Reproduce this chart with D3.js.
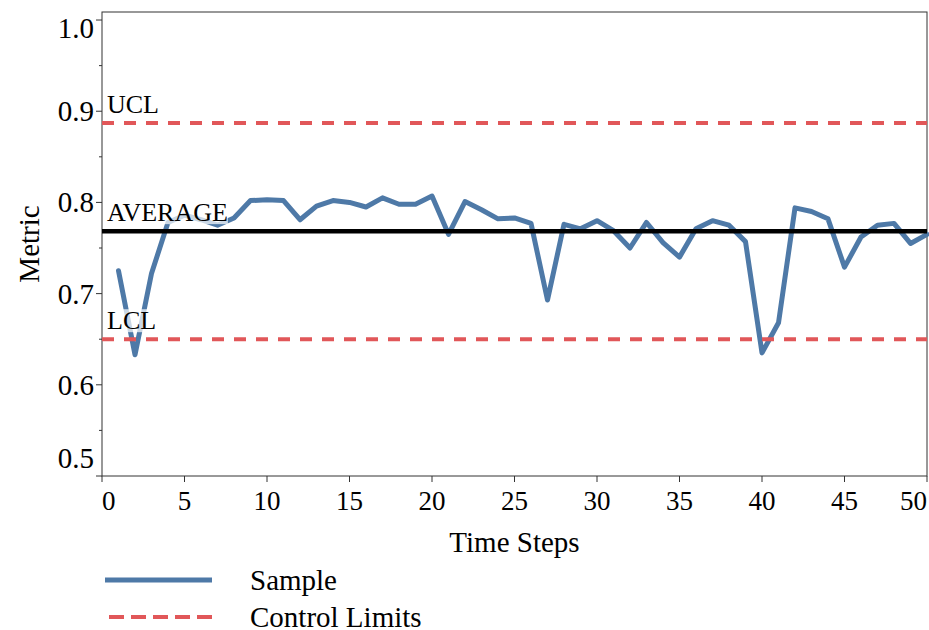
<!DOCTYPE html>
<html>
<head>
<meta charset="utf-8">
<script src="https://cdn.jsdelivr.net/npm/d3@7"></script>
<style>
  html, body { margin: 0; padding: 0; background: #fff; }
  svg { display: block; font-family: "Liberation Serif", "Times New Roman", serif; }
</style>
</head>
<body>
<svg id="chart" width="929" height="630"></svg>
<script>
// values
const sampleValues = [0.725, 0.633, 0.722, 0.778, 0.786, 0.781, 0.775, 0.783, 0.802, 0.803,
  0.802, 0.781, 0.796, 0.802, 0.800, 0.795, 0.805, 0.798, 0.798, 0.807,
  0.765, 0.801, 0.792, 0.782, 0.783, 0.777, 0.693, 0.776, 0.771, 0.780,
  0.769, 0.750, 0.778, 0.756, 0.740, 0.771, 0.780, 0.775, 0.757, 0.635,
  0.668, 0.794, 0.790, 0.782, 0.729, 0.762, 0.775, 0.777, 0.755, 0.765];
const controlNames = ['UCL', 'AVERAGE', 'LCL'];
const controlValues = [0.887, 0.7685, 0.650];
const xTicks = [0, 5, 10, 15, 20, 25, 30, 35, 40, 45, 50];
const yTicks = [0.5, 0.6, 0.7, 0.8, 0.9, 1.0];
const yMinorTicks = [0.55, 0.65, 0.75, 0.85, 0.95];
const legendLabels = ['Sample', 'Control Limits'];

const blue = '#4e79a7';
const red = '#e15759';
const svg = d3.select('#chart');
const margin = { top: 12, right: 2, bottom: 154, left: 102 };
const width = 929;
const height = 630;
const innerWidth = width - margin.left - margin.right;
const innerHeight = height - margin.top - margin.bottom;

const x = d3.scaleLinear().domain([0, 50]).range([0, innerWidth]);
const y = d3.scaleLinear().domain([0.5, 1.0088]).range([innerHeight, 0]);

const plot = svg.append('g').attr('transform', `translate(${margin.left},${margin.top})`);

// frame
plot.append('rect')
  .attr('width', innerWidth)
  .attr('height', innerHeight)
  .attr('fill', 'none')
  .attr('stroke', '#333')
  .attr('stroke-width', 1);

// sample line
const line = d3.line()
  .x((d, i) => x(i + 1))
  .y(d => y(d));
plot.append('path')
  .datum(sampleValues)
  .attr('d', line)
  .attr('fill', 'none')
  .attr('stroke', blue)
  .attr('stroke-width', 5)
  .attr('stroke-linejoin', 'round')
  .attr('stroke-linecap', 'round');

// control lines
controlNames.forEach((name, i) => {
  const isAvg = name === 'AVERAGE';
  plot.append('line')
    .attr('x1', 0)
    .attr('x2', innerWidth)
    .attr('y1', y(controlValues[i]))
    .attr('y2', y(controlValues[i]))
    .attr('stroke', isAvg ? '#000' : red)
    .attr('stroke-width', isAvg ? 4.5 : 4)
    .attr('stroke-dasharray', isAvg ? null : '12,10');
  const g = plot.append('g');
  const label = g.append('text')
    .attr('x', 5)
    .attr('y', y(controlValues[i]) - 10)
    .attr('font-size', 26)
    .attr('fill', '#000')
    .text(name);
  const box = label.node().getBBox();
  g.insert('rect', 'text')
    .attr('x', box.x)
    .attr('y', box.y + 3)
    .attr('width', box.width)
    .attr('height', box.height - 6)
    .attr('fill', '#fff')
    .attr('fill-opacity', 0.7);
});

// y axis
const yAxis = plot.append('g');
yAxis.selectAll('.major')
  .data(yTicks)
  .join('line')
  .attr('x1', -6).attr('x2', 0)
  .attr('y1', d => y(d)).attr('y2', d => y(d))
  .attr('stroke', '#333');
yAxis.selectAll('.minor')
  .data(yMinorTicks)
  .join('line')
  .attr('x1', -3).attr('x2', 0)
  .attr('y1', d => y(d)).attr('y2', d => y(d))
  .attr('stroke', '#333');
yAxis.selectAll('text')
  .data(yTicks)
  .join('text')
  .attr('x', -8)
  .attr('y', d => y(d) + (d === 1.0 ? 18 : d === 0.5 ? -8 : 10))
  .attr('text-anchor', 'end')
  .attr('font-size', 29)
  .text(d3.format('.1f'));

// x axis
const xAxis = plot.append('g').attr('transform', `translate(0,${innerHeight})`);
xAxis.selectAll('line')
  .data(xTicks)
  .join('line')
  .attr('x1', d => x(d)).attr('x2', d => x(d))
  .attr('y1', 0).attr('y2', 6)
  .attr('stroke', '#333');
xAxis.selectAll('text')
  .data(xTicks)
  .join('text')
  .attr('x', d => x(d))
  .attr('y', 34)
  .attr('text-anchor', (d, i) => i === 0 ? 'start' : i === xTicks.length - 1 ? 'end' : 'middle')
  .attr('font-size', 27)
  .text(d => d);

// axis titles
svg.append('text')
  .attr('x', margin.left + innerWidth / 2)
  .attr('y', 552)
  .attr('text-anchor', 'middle')
  .attr('font-size', 29)
  .text('Time Steps');
svg.append('text')
  .attr('transform', `translate(39,${margin.top + innerHeight / 2}) rotate(-90)`)
  .attr('text-anchor', 'middle')
  .attr('font-size', 29)
  .text('Metric');

// legend
const legend = svg.append('g');
legendLabels.forEach((name, i) => {
  const ly = 580 + i * 37;
  legend.append('line')
    .attr('x1', i === 0 ? 105 : 109)
    .attr('x2', 212)
    .attr('y1', ly).attr('y2', ly)
    .attr('stroke', i === 0 ? blue : red)
    .attr('stroke-width', i === 0 ? 5 : 4)
    .attr('stroke-dasharray', i === 0 ? null : '15,7');
  legend.append('text')
    .attr('x', 250)
    .attr('y', ly + 10)
    .attr('font-size', 29)
    .text(name);
});
</script>
</body>
</html>
